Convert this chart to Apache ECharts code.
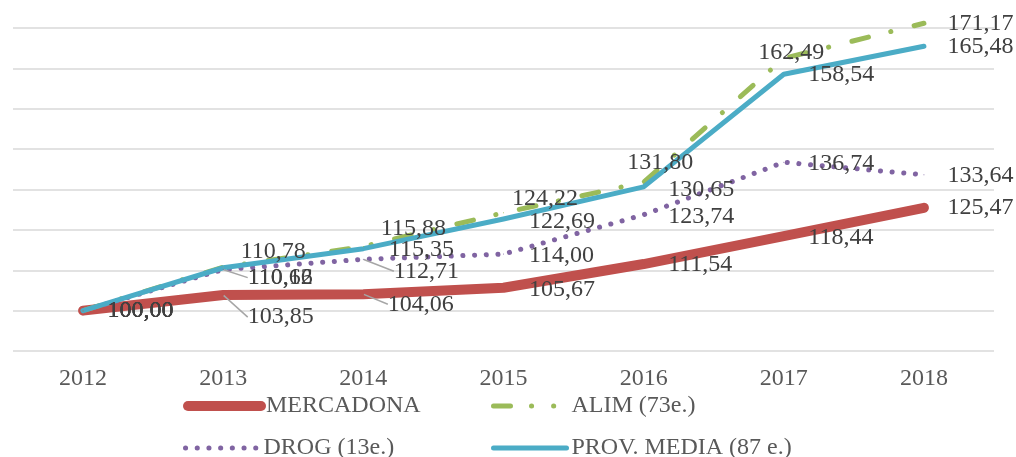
<!DOCTYPE html>
<html>
<head>
<meta charset="utf-8">
<script src="https://cdn.jsdelivr.net/npm/echarts@6/dist/echarts.min.js"></script>
<style>
  html, body { margin: 0; padding: 0; background: #fff; }
  #chart { width: 1016px; height: 457px; }
</style>
</head>
<body>
<div id="chart"></div>
<script>
var years = ['2012', '2013', '2014', '2015', '2016', '2017', '2018'];
var mercadona = [100, 103.85, 104.06, 105.67, 111.54, 118.44, 125.47];
var alim = [100, 110.78, 115.88, 124.22, 131.80, 162.49, 171.17];
var drog = [100, 110.16, 112.71, 114.00, 123.74, 136.74, 133.64];
var provMedia = [100, 110.62, 115.35, 122.69, 130.65, 158.54, 165.48];
var seriesNames = ['MERCADONA', 'ALIM (73e.)', 'DROG (13e.)', 'PROV. MEDIA (87 e.)'];

// where each value label sits relative to its point (px), like the Excel placement
var labelShift = [
    [[24, 0], [24, 22], [24, 10], [25, 2], [24, 1], [24, 2], [23, 0]],
    [[24, 0], [17, -15], [17, -18], [8, -14], [-17, -20], [-26, -6], [23, 0]],
    [[24, 0], [24, 8], [30, 12], [25, 2], [24, 2], [24, 1], [23, 1]],
    [[24, 0], [24, 10], [25, 1], [25, 3], [24, 3], [24, 0], [23, 0]]
];
var leaders = [[1, 2], [], [1, 2], []];
// legend slots: [left, top] for each series
var legendPos = [[183, 394], [491, 394], [183, 436], [491, 436]];

var serif = '"Liberation Serif", "Times New Roman", serif';

function fmt(v) {
    return v.toFixed(2).replace('.', ',');
}

function points(values, si) {
    return values.map(function(v, i) {
        var item = { value: v };
        if (leaders[si].indexOf(i) >= 0) {
            item.labelLine = { show: true };
        }
        return item;
    });
}

function makeSeries(name, values, si, color, width, type) {
    return {
        name: name,
        type: 'line',
        data: points(values, si),
        symbol: 'circle',
        symbolSize: 1,
        clip: false,
        itemStyle: { color: color },
        lineStyle: { color: color, width: width, type: type, cap: 'round', join: 'round' },
        label: {
            show: true,
            position: 'right',
            distance: 0,
            color: '#404040',
            fontFamily: serif,
            fontSize: 24,
            formatter: function(p) { return fmt(p.value); }
        },
        labelLine: {
            show: false,
            lineStyle: { color: '#a6a6a6', width: 1.5 }
        },
        labelLayout: function(p) {
            var s = labelShift[si][p.dataIndex];
            return { dx: s[0], dy: s[1] };
        },
        emphasis: { disabled: true }
    };
}

var chart = echarts.init(document.getElementById('chart'));

var legends = seriesNames.map(function(name, i) {
    var entry = { name: name };
    if (i === 1) {
        // Excel shows the dash-dot sample as dash, dot, dot
        entry.lineStyle = { type: [17, 21, 0.1, 22, 0.1, 40] };
    }
    return {
        left: legendPos[i][0],
        top: legendPos[i][1],
        padding: 0,
        itemWidth: 73,
        itemHeight: 14,
        itemStyle: { opacity: 0 },
        lineStyle: { width: 'inherit', type: 'inherit', cap: 'round' },
        textStyle: { color: '#595959', fontFamily: serif, fontSize: 24, lineHeight: 22 },
        data: [entry]
    };
});

var option = {
    animation: false,
    grid: { left: 13, right: 22, top: 28, bottom: 106 },
    legend: legends,
    xAxis: {
        type: 'category',
        data: years,
        boundaryGap: true,
        axisLine: { show: false },
        axisTick: { show: false },
        axisLabel: { color: '#595959', fontFamily: serif, fontSize: 24, margin: 16 }
    },
    yAxis: {
        type: 'value',
        min: 90,
        max: 170,
        interval: 10,
        axisLabel: { show: false },
        axisLine: { show: false },
        axisTick: { show: false },
        splitLine: { lineStyle: { color: '#d9d9d9', width: 1.5 } }
    },
    series: [
        makeSeries(seriesNames[0], mercadona, 0, '#c0504d', 10, 'solid'),
        makeSeries(seriesNames[1], alim, 1, '#9bbb59', 5, [17, 23, 0.1, 24]),
        makeSeries(seriesNames[2], drog, 2, '#8064a2', 5, [0.1, 11.6]),
        makeSeries(seriesNames[3], provMedia, 3, '#4bacc6', 5, 'solid')
    ]
};

chart.setOption(option);
</script>
</body>
</html>
